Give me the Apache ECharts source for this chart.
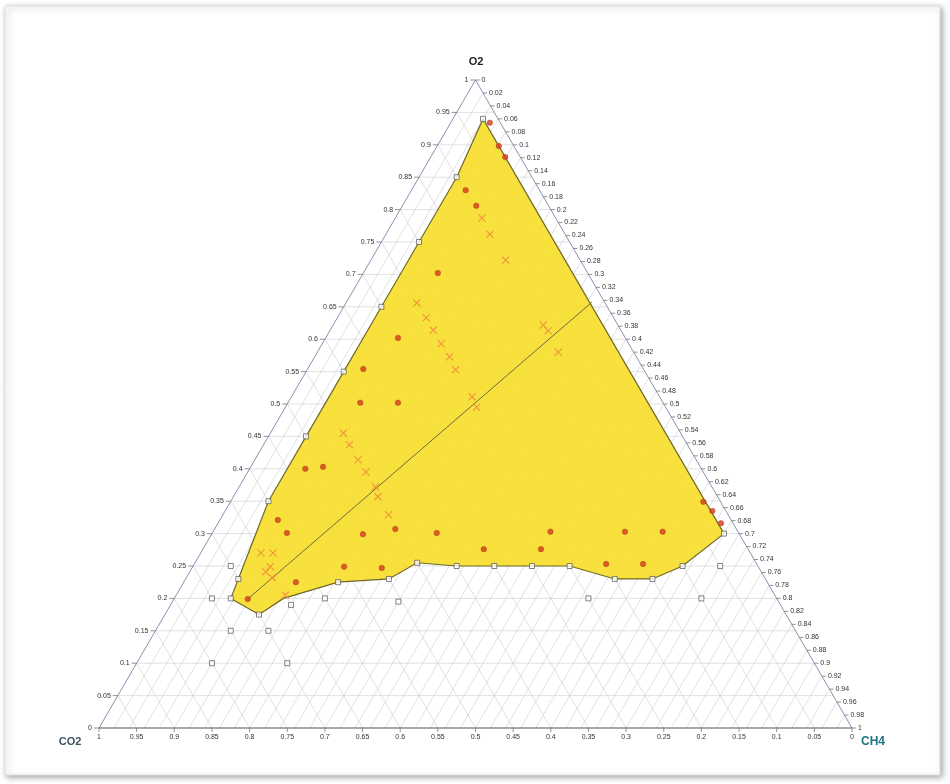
<!DOCTYPE html>
<html><head><meta charset="utf-8">
<script src="https://cdn.jsdelivr.net/npm/echarts@6/dist/echarts.min.js"></script>
<style>html,body{margin:0;padding:0;background:#fff}#c{width:950px;height:784px}</style>
</head><body><div id="c"></div>
<script>
// Ternary data stored as [O2, CH4] fractions; CO2 = 1 - O2 - CH4
const o2Labels = ['0','0.05','0.1','0.15','0.2','0.25','0.3','0.35','0.4','0.45','0.5','0.55','0.6','0.65','0.7','0.75','0.8','0.85','0.9','0.95','1'];
const ch4Labels = ['0','0.02','0.04','0.06','0.08','0.1','0.12','0.14','0.16','0.18','0.2','0.22','0.24','0.26','0.28','0.3','0.32','0.34','0.36','0.38','0.4','0.42','0.44','0.46','0.48','0.5','0.52','0.54','0.56','0.58','0.6','0.62','0.64','0.66','0.68','0.7','0.72','0.74','0.76','0.78','0.8','0.82','0.84','0.86','0.88','0.9','0.92','0.94','0.96','0.98','1'];
const co2Labels = ['1','0.95','0.9','0.85','0.8','0.75','0.7','0.65','0.6','0.55','0.5','0.45','0.4','0.35','0.3','0.25','0.2','0.15','0.1','0.05','0'];

const regionBoundary = [[0.94,0.04],[0.30,0.68],[0.25,0.65],[0.23,0.62],[0.23,0.57],[0.25,0.50],[0.25,0.45],[0.25,0.40],[0.25,0.35],[0.255,0.295],[0.23,0.27],[0.225,0.205],[0.20,0.145],[0.175,0.125],[0.20,0.075],[0.23,0.07],[0.35,0.05],[0.45,0.05],[0.55,0.05],[0.65,0.05],[0.75,0.05],[0.85,0.05]];
const boundarySquares = [[0.94,0.04],[0.30,0.68],[0.25,0.65],[0.23,0.62],[0.23,0.57],[0.25,0.50],[0.25,0.45],[0.25,0.40],[0.25,0.35],[0.255,0.295],[0.23,0.27],[0.225,0.205],[0.175,0.125],[0.20,0.075],[0.23,0.07],[0.35,0.05],[0.45,0.05],[0.55,0.05],[0.65,0.05],[0.75,0.05],[0.85,0.05]];
const outsideSquares = [[0.25,0.05],[0.20,0.05],[0.19,0.16],[0.20,0.20],[0.195,0.30],[0.15,0.10],[0.15,0.15],[0.10,0.10],[0.10,0.20],[0.20,0.55],[0.20,0.70],[0.25,0.70]];
const redPoints = [[0.934,0.052],[0.898,0.082],[0.881,0.099],[0.830,0.072],[0.806,0.098],[0.702,0.099],[0.602,0.096],[0.554,0.074],[0.502,0.096],[0.502,0.146],[0.400,0.074],[0.403,0.096],[0.321,0.077],[0.301,0.099],[0.299,0.201],[0.307,0.240],[0.301,0.298],[0.249,0.201],[0.247,0.252],[0.225,0.149],[0.199,0.098],[0.303,0.448],[0.303,0.547],[0.303,0.597],[0.276,0.373],[0.276,0.449],[0.253,0.547],[0.253,0.596],[0.349,0.628],[0.335,0.647],[0.316,0.668]];
const crossPoints = [[0.787,0.115],[0.762,0.138],[0.722,0.179],[0.656,0.094],[0.633,0.118],[0.614,0.137],[0.593,0.158],[0.573,0.179],[0.553,0.197],[0.511,0.240],[0.495,0.254],[0.622,0.279],[0.613,0.290],[0.580,0.320],[0.455,0.097],[0.437,0.114],[0.414,0.137],[0.395,0.157],[0.372,0.181],[0.357,0.192],[0.329,0.220],[0.270,0.080],[0.270,0.096],[0.249,0.103],[0.241,0.101],[0.232,0.114],[0.205,0.145]];
const mixingLine = [[0.199,0.098],[0.657,0.326]];

// ternary [O2, CH4] -> cartesian data space (x along CO2->CH4 base, y = O2 height)
function toXY(p){ return [p[1] + p[0]/2, p[0]]; }

const FONT = '"Liberation Sans", Arial, sans-serif';

// gridline segments [x1,y1,x2,y2]
const gridSegs = [];
o2Labels.map(parseFloat).forEach(v => { if (v>0 && v<1) gridSegs.push([v/2, v, 1-v/2, v]); });
ch4Labels.map(parseFloat).forEach(c => { if (c>0 && c<1) gridSegs.push([c, 0, 0.5+c/2, 1-c]); });
co2Labels.map(parseFloat).forEach(w => { if (w>0 && w<1) gridSegs.push([1-w, 0, (1-w)/2, 1-w]); });

function segSeries(data, color, width, z){
  return { type:'custom', coordinateSystem:'cartesian2d', silent:true, z:z, data:data,
    renderItem:function(params, api){
      const a = api.coord([api.value(0), api.value(1)]);
      const b = api.coord([api.value(2), api.value(3)]);
      return { type:'line', shape:{x1:a[0],y1:a[1],x2:b[0],y2:b[1]}, style:{stroke:color, lineWidth:width} };
    } };
}

function labelSeries(points, texts, opt){
  return { type:'custom', coordinateSystem:'cartesian2d', silent:true, z:6, data:points,
    renderItem:function(params, api){
      const p = api.coord([api.value(0), api.value(1)]);
      return { type:'group', children:[
        { type:'line', shape:{x1:p[0], y1:p[1], x2:p[0]+opt.tx, y2:p[1]+opt.ty}, style:{stroke:'#777', lineWidth:0.8} },
        { type:'text', x:p[0]+opt.dx, y:p[1]+opt.dy, style:{ text:texts[params.dataIndex], fill:'#333', font:'7px '+FONT, align:opt.align, verticalAlign:opt.va } }
      ]};
    } };
}

const o2Pts = o2Labels.map(s => { const v=parseFloat(s); return [v/2, v]; });
const ch4Pts = ch4Labels.map(s => { const c=parseFloat(s); return [0.5+c/2, 1-c]; });
const co2Pts = co2Labels.map(s => { const w=parseFloat(s); return [1-w, 0]; });

const polyXY = regionBoundary.map(toXY);

const chart = echarts.init(document.getElementById('c'));
chart.setOption({
  animation:false,
  backgroundColor:'#ffffff',
  grid:{ left:99, top:80, width:753, height:648 },
  xAxis:{ type:'value', min:0, max:1, show:false },
  yAxis:{ type:'value', min:0, max:1, show:false },
  graphic:[
    { type:'rect', z:-1, shape:{x:5, y:6, width:935, height:769},
      style:{ fill:'#ffffff', stroke:'#dedede', lineWidth:1, shadowBlur:6, shadowOffsetX:2, shadowOffsetY:2, shadowColor:'rgba(0,0,0,0.35)' } },
    { type:'text', z:10, x:476, y:62, style:{ text:'O2', font:'bold 11px '+FONT, fill:'#222', align:'center', verticalAlign:'middle' } },
    { type:'text', z:10, x:70, y:742, style:{ text:'CO2', font:'bold 11px '+FONT, fill:'#3a5660', align:'center', verticalAlign:'middle' } },
    { type:'text', z:10, x:873, y:742, style:{ text:'CH4', font:'bold 12px '+FONT, fill:'#1f7384', align:'center', verticalAlign:'middle' } }
  ],
  series:[
    segSeries(gridSegs, '#cdcdcd', 0.6, 1),
    { type:'custom', coordinateSystem:'cartesian2d', silent:true, z:2, data:[0],
      renderItem:function(params, api){
        const pts = polyXY.map(p => api.coord(p));
        return { type:'polygon', shape:{points:pts}, style:{ fill:'rgba(247,222,40,0.9)', stroke:'#6f6a2a', lineWidth:1.2 } };
      } },
    segSeries([[0,0,0.5,1],[1,0,0.5,1]], '#8a90b0', 1, 3),
    segSeries([[0,0,1,0]], '#555555', 1.2, 3),
    labelSeries(o2Pts, o2Labels, {tx:-5, ty:0, dx:-7, dy:0, align:'right', va:'middle'}),
    labelSeries(ch4Pts, ch4Labels, {tx:4, ty:0, dx:6, dy:0, align:'left', va:'middle'}),
    labelSeries(co2Pts, co2Labels, {tx:0, ty:4, dx:0, dy:6, align:'center', va:'top'}),
    { type:'line', z:4, data:mixingLine.map(toXY), symbol:'none', silent:true,
      lineStyle:{ color:'#6e6b40', width:1 } },
    { type:'scatter', z:5, data:boundarySquares.concat(outsideSquares).map(toXY), symbol:'rect', symbolSize:5, silent:true,
      itemStyle:{ color:'#ffffff', borderColor:'#555555', borderWidth:0.9 } },
    { type:'scatter', z:6, data:redPoints.map(toXY), symbol:'circle', symbolSize:5.5, silent:true,
      itemStyle:{ color:'#d9381e', borderColor:'#a8401a', borderWidth:0.6 } },
    { type:'scatter', z:7, data:crossPoints.map(toXY), silent:true,
      symbol:'path://M0,1L1,0L5,4L9,0L10,1L6,5L10,9L9,10L5,6L1,10L0,9L4,5Z', symbolSize:8,
      itemStyle:{ color:'#f08a3a', opacity:0.85 } }
  ]
});
</script></body></html>
